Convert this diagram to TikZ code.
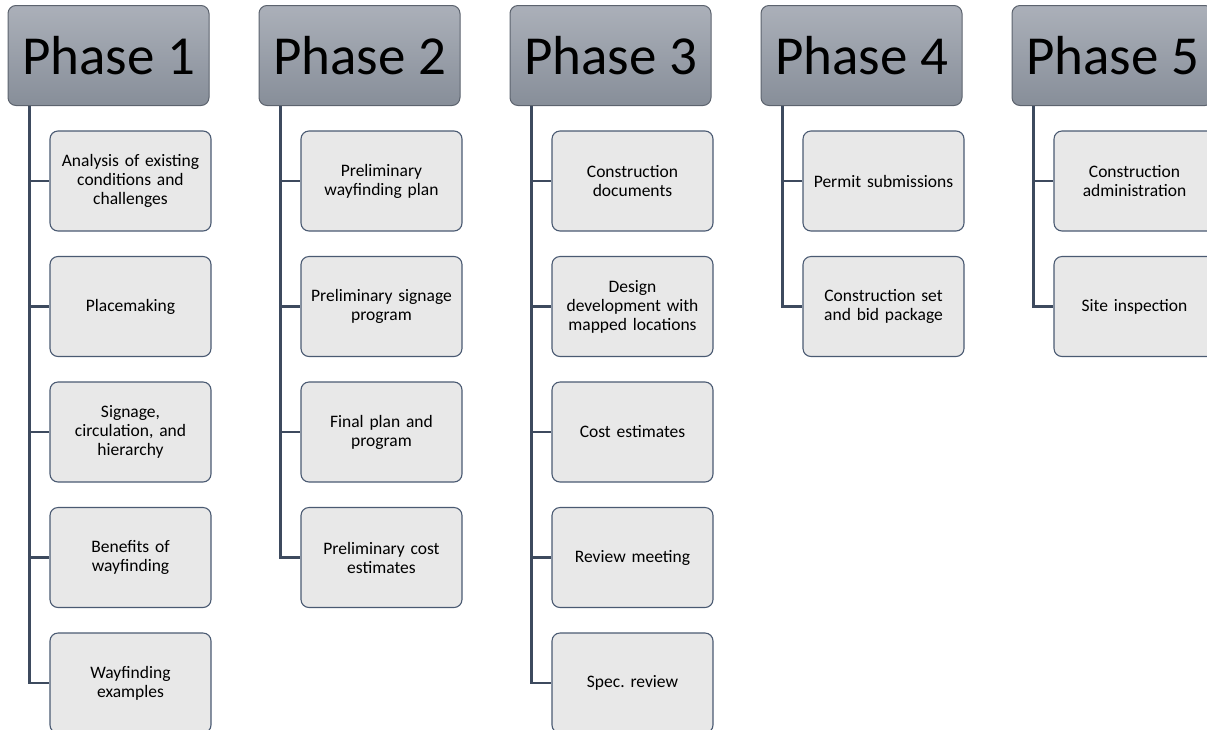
\documentclass[tikz,border=0pt]{standalone}
\usepackage{fontspec}
\setmainfont{Carlito}

\definecolor{headtop}{HTML}{ABB0B9}
\definecolor{headbot}{HTML}{878E99}
\definecolor{headline}{HTML}{5C636E}
\definecolor{taskfill}{HTML}{E8E8E8}
\definecolor{taskline}{HTML}{4A5A72}
\definecolor{linkcol}{HTML}{3D4A5E}

\tikzset{
  phase/.style={draw=headline, line width=1pt, rounded corners=8pt,
    top color=headtop, bottom color=headbot,
    minimum width=201pt, minimum height=100pt, inner sep=0pt,
    font=\fontsize{55}{60}\selectfont},
  task/.style={draw=taskline, line width=1.1pt, rounded corners=8pt,
    fill=taskfill, minimum width=161pt, minimum height=100pt,
    text width=155pt, align=center, inner sep=0pt,
    font=\fontsize{17.5}{19}\selectfont},
  link/.style={draw=linkcol, line width=2.6pt}
}

\begin{document}
\frenchspacing
\begin{tikzpicture}[x=1pt, y=-1pt]
\useasboundingbox (0,0) rectangle (1207,729);

% phase headers
\foreach \p in {1,...,5}
  \node [phase] (phase-\p) at ({108.5+(\p-1)*251},55.5) {Phase \p};

% phase 1
\foreach \t [count=\i] in {{Analysis of existing\\conditions and\\challenges},
    {Placemaking}, {Signage,\\circulation, and\\hierarchy},
    {Benefits of\\wayfinding}, {Wayfinding\\examples}}
  \node [task] (p1-\i) at (130.5,{181+(\i-1)*125.5}) {\t};

% phase 2
\foreach \t [count=\i] in {{Preliminary\\wayfinding plan},
    {Preliminary signage\\program}, {Final plan and\\program},
    {Preliminary cost\\estimates}}
  \node [task] (p2-\i) at (381.5,{181+(\i-1)*125.5}) {\t};

% phase 3
\foreach \t [count=\i] in {{Construction\\documents},
    {Design\\development with\\mapped locations}, {Cost estimates},
    {Review meeting}, {Spec. review}}
  \node [task] (p3-\i) at (632.5,{181+(\i-1)*125.5}) {\t};

% phase 4
\foreach \t [count=\i] in {{Permit submissions},
    {Construction set\\and bid package}}
  \node [task] (p4-\i) at (883.5,{181+(\i-1)*125.5}) {\t};

% phase 5
\foreach \t [count=\i] in {{Construction\\administration},
    {Site inspection}}
  \node [task] (p5-\i) at (1134.5,{181+(\i-1)*125.5}) {\t};

% connectors
\foreach \p/\n in {1/5, 2/4, 3/5, 4/2, 5/2}
  \foreach \i in {1,...,\n}
    \draw [link] ([xshift=22pt]phase-\p.south west) |- (p\p-\i.west);

\end{tikzpicture}
\end{document}
